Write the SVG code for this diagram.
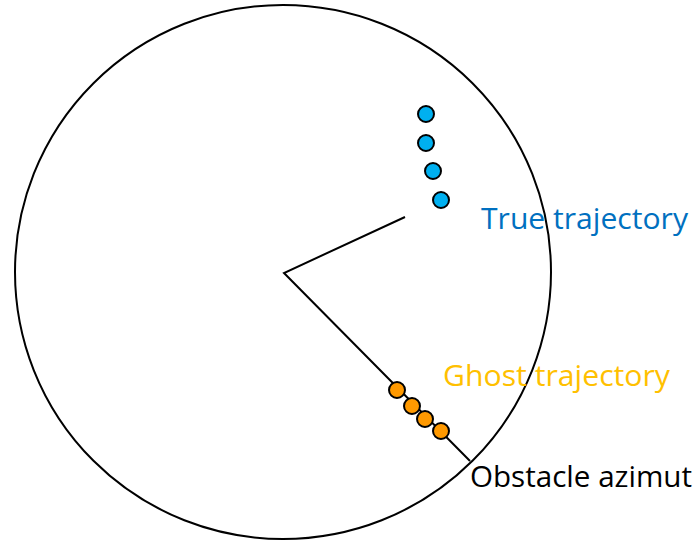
<svg xmlns="http://www.w3.org/2000/svg" width="696" height="542" viewBox="0 0 696 542">
<style>
.ln{fill:none;stroke:#000;stroke-width:2}
.bd{fill:#00B0F0;stroke:#000;stroke-width:2}
.od{fill:#FF9900;stroke:#000;stroke-width:2}
text{font-family:"Open Sans","Liberation Sans",sans-serif;font-size:29px}
</style>
<rect width="696" height="542" fill="#fff"/>
<g id="circle"><ellipse class="ln" cx="283" cy="272" rx="268" ry="267"/></g>
<g id="connectors">
<polyline class="ln" points="405,217 284,273 470,461"/>
</g>
<g id="true-dots">
<circle class="bd" cx="426" cy="114" r="8"/>
<circle class="bd" cx="426" cy="143" r="8"/>
<circle class="bd" cx="433" cy="171" r="8"/>
<circle class="bd" cx="441" cy="200" r="8"/>
</g>
<g id="ghost-dots">
<circle class="od" cx="397" cy="390" r="8"/>
<circle class="od" cx="412" cy="406" r="8"/>
<circle class="od" cx="425" cy="419" r="8"/>
<circle class="od" cx="441" cy="431" r="8"/>
</g>
<g id="label-true"><text x="481" y="229" fill="#0070C0" textLength="207" lengthAdjust="spacingAndGlyphs">True trajectory</text></g>
<g id="label-ghost"><text x="443" y="386" fill="#FFC000" textLength="227" lengthAdjust="spacingAndGlyphs">Ghost trajectory</text></g>
<g id="label-obstacle"><text x="470" y="487" fill="#000" textLength="222" lengthAdjust="spacingAndGlyphs">Obstacle azimut</text></g>
</svg>
